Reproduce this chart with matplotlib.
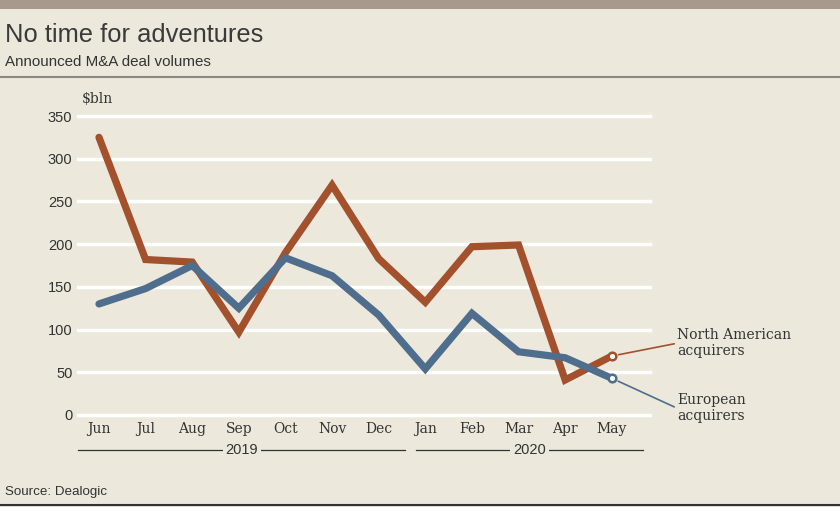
import numpy as np
import matplotlib.pyplot as plt
from matplotlib.lines import Line2D
import matplotlib.transforms as mtransforms

months = ['Jun', 'Jul', 'Aug', 'Sep', 'Oct', 'Nov', 'Dec', 'Jan', 'Feb', 'Mar', 'Apr', 'May']
north_america = [325, 182, 179, 97, 190, 269, 183, 132, 197, 199, 41, 69]
europe = [130, 148, 175, 125, 184, 163, 117, 54, 119, 74, 67, 43]
yticks = [0, 50, 100, 150, 200, 250, 300, 350]
years = ['2019', '2020']
year_spans = [(-0.45, 6.57), (6.8, 11.67)]

BG = '#ece8dc'
ORANGE = '#a3502d'
BLUE = '#4f6d8c'
SERIF = ['DejaVu Serif']
SANS = ['Liberation Sans', 'DejaVu Sans']

fig = plt.figure(figsize=(8.4, 5.07), dpi=100)
fig.patch.set_facecolor(BG)

# top band and rules
fig.add_artist(plt.Rectangle((0, 1 - 9 / 507), 1, 9 / 507, transform=fig.transFigure,
                             facecolor='#a79a8d', edgecolor='none'))
fig.add_artist(Line2D([0, 1], [1 - 77 / 507] * 2, transform=fig.transFigure, color='#8c8880', lw=1.5))
fig.add_artist(Line2D([0, 1], [2 / 507] * 2, transform=fig.transFigure, color='#333333', lw=1.5))

fig.text(5 / 840, 1 - 35 / 507, 'No time for adventures', family=SANS, fontsize=18.4,
         color='#3a3a3a', va='center', ha='left')
fig.text(5 / 840, 1 - 62 / 507, 'Announced M&A deal volumes', family=SANS, fontsize=10.9,
         color='#333333', va='center', ha='left')
fig.text(5 / 840, 1 - 492 / 507, 'Source: Dealogic', family=SANS, fontsize=9.6,
         color='#333333', va='center', ha='left')

ax = fig.add_axes([78 / 840, (507 - 415) / 507, 572 / 840, 299 / 507])
ax.set_facecolor(BG)
for s in ax.spines.values():
    s.set_visible(False)

x = np.arange(len(months))
ax.set_xlim(-0.45, 11.82)
ax.set_ylim(0, 350)

for yv in yticks:
    ax.axhline(yv, color='white', lw=2.5, zorder=1, clip_on=False)

ax.plot(x, north_america, color=ORANGE, lw=5.2, solid_capstyle='round', solid_joinstyle='miter',
        zorder=3, clip_on=False)
ax.plot(x, europe, color=BLUE, lw=5.2, solid_capstyle='round', solid_joinstyle='miter',
        zorder=3, clip_on=False)

ax.set_xticks(x)
ax.set_xticklabels(months, family=SERIF, fontsize=10, color='#333333')
ax.set_yticks(yticks)
ax.set_yticklabels([str(v) for v in yticks], family=SANS, fontsize=10.5, color='#333333')
ax.tick_params(length=0, axis='x', pad=5)
ax.tick_params(length=0, axis='y', pad=4)
ax.text(0.007, 362, '$bln', family=SERIF, fontsize=10, color='#333333', ha='left', va='bottom',
        transform=mtransforms.blended_transform_factory(ax.transAxes, ax.transData))

# end markers and labels
for vals, col, label, ty in [(north_america, ORANGE, 'North American\nacquirers', 84),
                             (europe, BLUE, 'European\nacquirers', 8)]:
    ax.plot(x[-1], vals[-1], 'o', ms=5.5, mfc='white', mec=col, mew=1.8, zorder=4, clip_on=False)
    ax.annotate(label, xy=(x[-1], vals[-1]), xytext=(12.4, ty), textcoords='data',
                family=SERIF, fontsize=10, color='#333333', ha='left', va='center',
                linespacing=1.15, annotation_clip=False,
                arrowprops=dict(arrowstyle='-', color=col, lw=1.2, shrinkA=0, shrinkB=5,
                                relpos=(0, 0.5)))

# year brackets below the month labels
trans = mtransforms.blended_transform_factory(ax.transData, ax.transAxes)
for yr, (x0, x1) in zip(years, year_spans):
    ax.add_line(Line2D([x0, x1], [-0.117, -0.117], transform=trans, color='#333333', lw=0.9,
                       clip_on=False))
    ax.text((x0 + x1) / 2, -0.117, yr, transform=trans, family=SANS, fontsize=10.5,
            color='#333333', ha='center', va='center',
            bbox=dict(facecolor=BG, edgecolor='none', pad=2))

fig.savefig('out.png', dpi=100, facecolor=BG)
